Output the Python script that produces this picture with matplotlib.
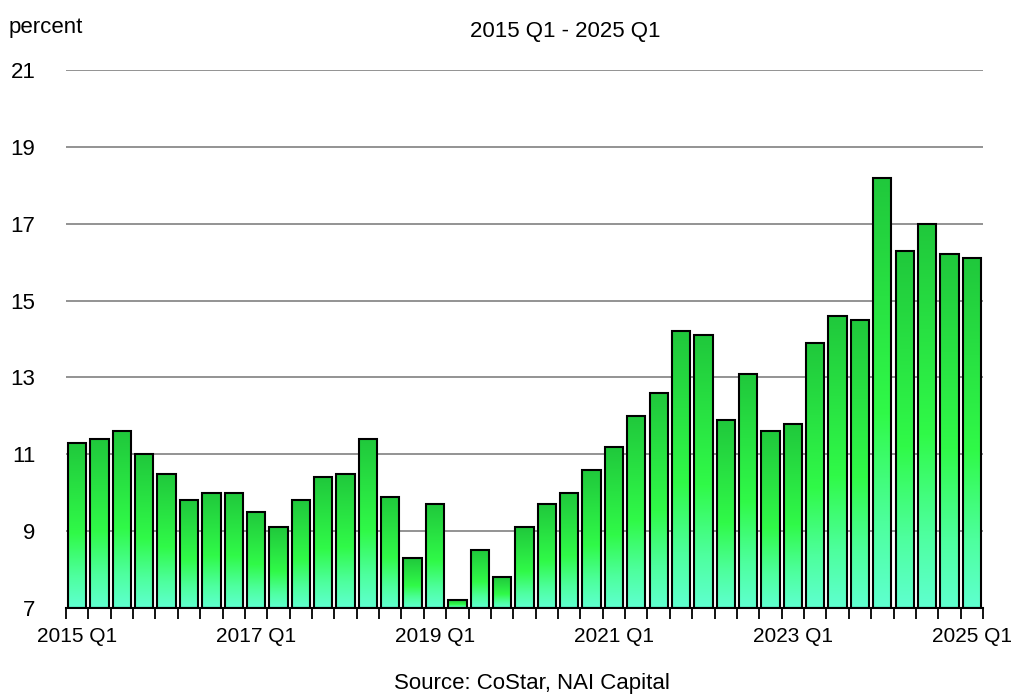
import numpy as np
import matplotlib
matplotlib.use('Agg')
import matplotlib.pyplot as plt
from matplotlib.colors import LinearSegmentedColormap

# quarterly values, 2015 Q1 .. 2025 Q1
quarters = [f"{y} Q{q}" for y in range(2015, 2026) for q in range(1, 5)][:41]
values = [11.3, 11.4, 11.6, 11.0, 10.5, 9.8, 10.0, 10.0, 9.5, 9.1,
          9.8, 10.4, 10.5, 11.4, 9.9, 8.3, 9.7, 7.2, 8.5, 7.8,
          9.1, 9.7, 10.0, 10.6, 11.2, 12.0, 12.6, 14.2, 14.1, 11.9,
          13.1, 11.6, 11.8, 13.9, 14.6, 14.5, 18.2, 16.3, 17.0, 16.2,
          16.1]
label_idx = [0, 8, 16, 24, 32, 40]
yticks = [7, 9, 11, 13, 15, 17, 19, 21]

plt.rcParams['font.family'] = ['Liberation Sans', 'DejaVu Sans']

fig = plt.figure(figsize=(10.14, 6.96), dpi=100)
ax = fig.add_axes([0.0651, 0.1264, 0.9043, 0.773])

cmap = LinearSegmentedColormap.from_list(
    'grn', [(0.0, '#5fffd0'), (0.2, '#4dff9c'), (0.45, '#30fa48'), (1.0, '#20c83c')])
grad = np.linspace(0, 1, 256).reshape(-1, 1)

width = 0.82
x = np.arange(len(values))
ymin = 7
for xi, v in zip(x, values):
    ax.imshow(grad, cmap=cmap, origin='lower', aspect='auto',
              extent=[xi - width / 2, xi + width / 2, ymin, v], zorder=2)
ax.bar(x, np.array(values) - ymin, bottom=ymin, width=width, fill=False,
       edgecolor='black', linewidth=1.5, zorder=3)

ax.set_xlim(-0.5, len(values) - 0.5)
ax.set_ylim(7, 21)
ax.set_yticks(yticks)
ax.set_yticklabels([str(t) for t in yticks], fontsize=16)
ax.tick_params(axis='y', length=0, pad=22)
for t in yticks[1:]:
    ax.axhline(t, color='#8a8a8a', linewidth=1.3, zorder=1)

ax.set_xticks(np.arange(len(values) + 1) - 0.5)
ax.set_xticklabels([])
ax.tick_params(axis='x', which='major', length=8, width=1.3, color='black')
ax.set_xticks(label_idx, minor=True)
ax.set_xticklabels([quarters[i] for i in label_idx], minor=True, fontsize=15)
ax.tick_params(axis='x', which='minor', length=0, pad=14)

for s in ['top', 'right', 'left']:
    ax.spines[s].set_visible(False)
ax.spines['bottom'].set_linewidth(1.5)
ax.spines['bottom'].set_zorder(4)

fig.text(0.008, 0.975, 'percent', fontsize=16, va='top', ha='left')
fig.text(0.557, 0.955, '2015 Q1 - 2025 Q1', fontsize=16, va='center', ha='center')
fig.text(0.525, 0.018, 'Source: CoStar, NAI Capital', fontsize=16, va='center', ha='center')

fig.savefig('out.png', dpi=100)
